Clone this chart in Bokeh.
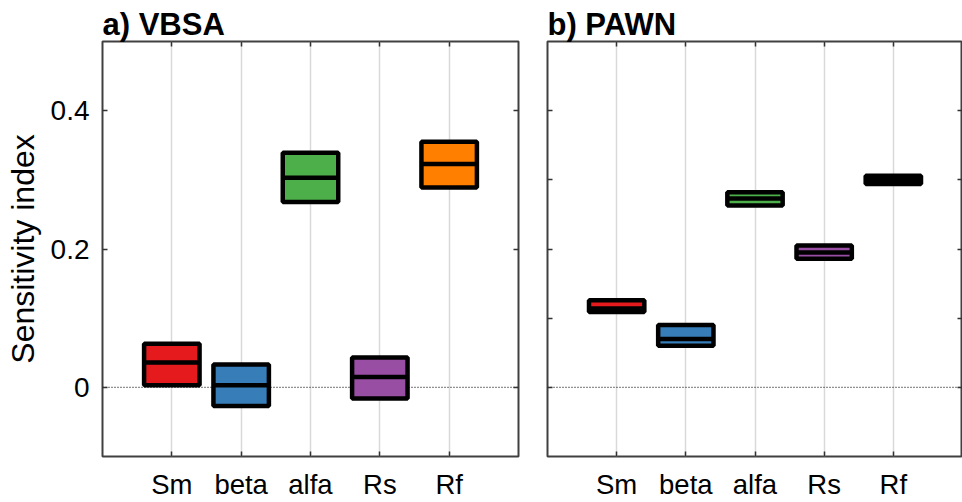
from bokeh.plotting import figure
from bokeh.layouts import row
from bokeh.models import ColumnDataSource, FixedTicker, LinearAxis, Span, Range1d
from bokeh.embed import file_html
from bokeh.resources import INLINE

# Input factors and box-plot statistics (lower bound, median, upper bound)
params = ["Sm", "beta", "alfa", "Rs", "Rf"]
colors = ["#E41A1C", "#377EB8", "#4DAF4A", "#984EA3", "#FF7F00"]

vbsa_low = [0.003, -0.027, 0.268, -0.016, 0.289]
vbsa_med = [0.036, 0.003, 0.303, 0.015, 0.323]
vbsa_high = [0.063, 0.033, 0.339, 0.043, 0.355]

pawn_low = [0.109, 0.060, 0.263, 0.186, 0.294]
pawn_med = [0.114, 0.070, 0.273, 0.195, 0.300]
pawn_high = [0.126, 0.090, 0.282, 0.205, 0.306]

y_ticks_labeled = [0, 0.2, 0.4]
y_ticks_fine = [0, 0.1, 0.2, 0.3, 0.4]

FONT = "Liberation Sans"
FRAME_H = 417
BOX_W = 0.8


def blank_labels(ax, ticks):
    ax.major_label_overrides = {t: "" for t in ticks}
    ax.major_label_text_font_size = "1px"
    ax.major_label_standoff = 0


def panel(title, low, med, high, width, border_left, border_right, first):
    pos = list(range(1, len(params) + 1))
    p = figure(width=width, height=502, output_backend="svg", toolbar_location=None,
               x_range=Range1d(0, len(params) + 1), y_range=Range1d(-0.1, 0.5),
               x_axis_location=None, y_axis_location=None,
               min_border_left=border_left, min_border_right=border_right,
               min_border_top=41, min_border_bottom=502 - 41 - FRAME_H)
    p.outline_line_color = "#404040"
    p.outline_line_width = 2
    p.background_fill_color = "white"
    p.border_fill_color = "white"

    p.title.text = title
    p.title.text_font = FONT
    p.title.text_font_size = "31px"
    p.title.text_font_style = "bold"
    p.title.text_color = "black"
    p.title.align = "left"
    p.title.standoff = 0
    p.title.offset = 0

    # vertical grid at each factor, no horizontal grid
    p.ygrid.visible = False
    p.xgrid.ticker = FixedTicker(ticks=pos)
    p.xgrid.grid_line_color = "#d9d9d9"
    p.xgrid.grid_line_width = 1.5

    yt = y_ticks_labeled if first else y_ticks_fine

    def style(ax):
        ax.axis_line_color = None
        ax.major_tick_in = 5
        ax.major_tick_out = 0
        ax.minor_tick_in = 0
        ax.minor_tick_out = 0
        ax.major_tick_line_color = "#333333"
        ax.major_tick_line_width = 1.5
        ax.major_label_text_font = FONT
        ax.major_label_text_color = "black"

    below = LinearAxis(ticker=FixedTicker(ticks=pos),
                       major_label_overrides={i: n for i, n in zip(pos, params)})
    style(below)
    below.major_label_text_font_size = "27.5px"
    below.major_label_standoff = 12
    p.add_layout(below, "below")

    above = LinearAxis(ticker=FixedTicker(ticks=pos))
    style(above)
    blank_labels(above, pos)
    p.add_layout(above, "above")

    left = LinearAxis(ticker=FixedTicker(ticks=yt))
    style(left)
    if first:
        left.major_label_overrides = {t: ("0" if t == 0 else f"{t:g}") for t in yt}
        left.major_label_text_font_size = "28px"
        left.major_label_standoff = 13
        left.axis_label = "Sensitivity index"
        left.axis_label_text_font = FONT
        left.axis_label_text_font_size = "32px"
        left.axis_label_text_font_style = "normal"
        left.axis_label_text_color = "black"
        left.axis_label_standoff = 7
    else:
        blank_labels(left, yt)
    p.add_layout(left, "left")

    right = LinearAxis(ticker=FixedTicker(ticks=yt))
    style(right)
    blank_labels(right, yt)
    p.add_layout(right, "right")

    # zero reference line
    p.add_layout(Span(location=0, dimension="width", line_color="#222222",
                      line_width=1.2, line_dash="1 2", level="underlay"))

    src = ColumnDataSource(dict(
        x=pos,
        left=[x - BOX_W / 2 for x in pos],
        right=[x + BOX_W / 2 for x in pos],
        low=low, med=med, high=high, color=colors))
    p.quad(left="left", right="right", bottom="low", top="high", source=src,
           fill_color="color", line_color="black", line_width=4.5)
    p.segment(x0="left", x1="right", y0="med", y1="med", source=src,
              line_color="black", line_width=4.5)
    return p


p1 = panel("a) VBSA", vbsa_low, vbsa_med, vbsa_high, 532, 102, 14, True)
p2 = panel("b) PAWN", pawn_low, pawn_med, pawn_high, 430, 15, 0, False)

layout = row(p1, p2)
open("out.html", "w").write(file_html(layout, INLINE))
